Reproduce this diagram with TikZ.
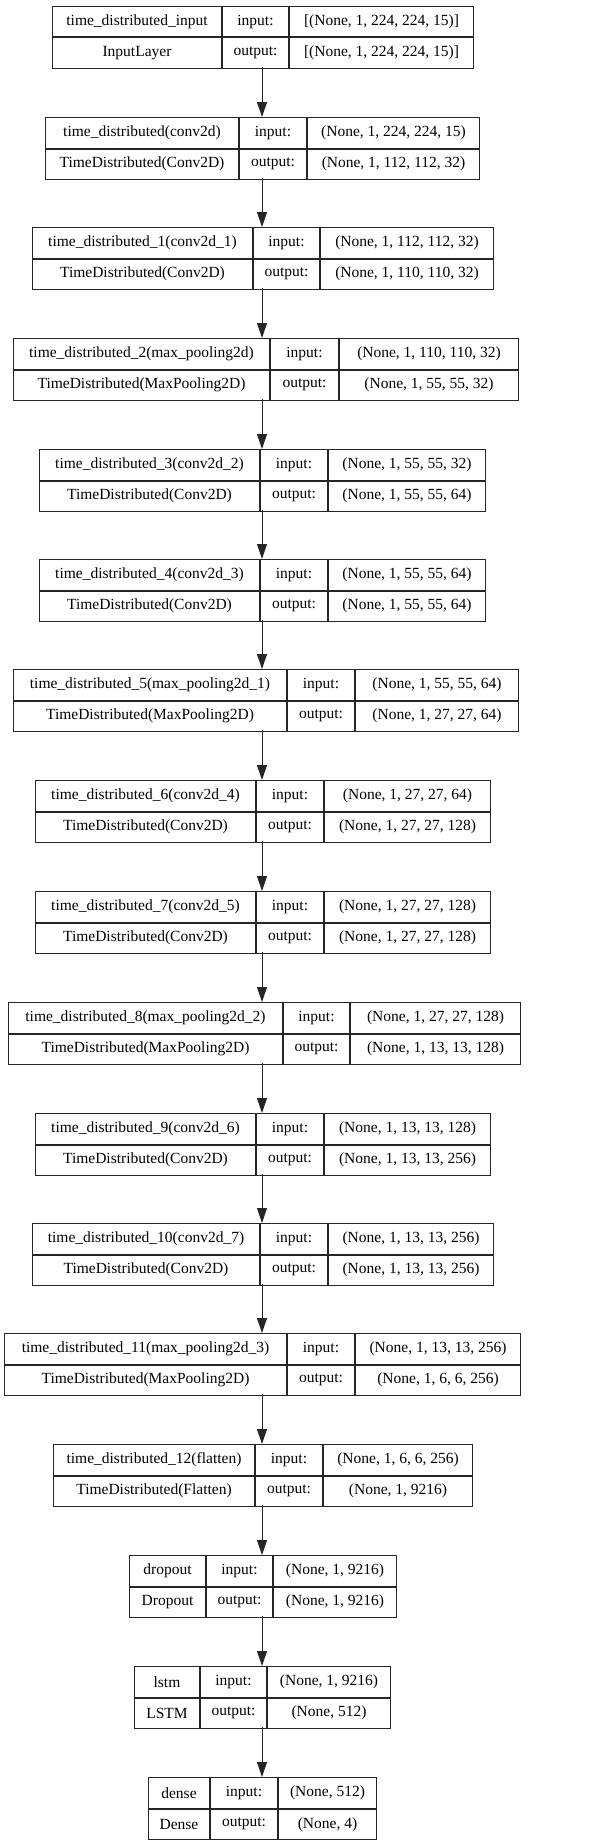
\documentclass[tikz,border=0pt]{standalone}
\usepackage{fontspec}
\setmainfont{Liberation Serif}
\usepackage{tikz}
\usetikzlibrary{arrows.meta,positioning}

\begin{document}
\begin{tikzpicture}[x=1pt,y=1pt,>={Triangle[length=15pt,width=10pt]},font=\fontsize{15.5}{18}\selectfont]
  \tikzstyle{cell}=[rectangle,draw=black!85,line width=1pt,inner sep=0pt,anchor=north west,minimum height=30.5pt]
  \tikzstyle{frame}=[rectangle,inner sep=0pt,anchor=north west,minimum height=61pt]
  \tikzstyle{flow}=[->,draw=black!85,line width=1pt]

  \useasboundingbox (0,0) rectangle (589,-1844);
  \coordinate (axis) at (262,0);

  % Layers
  \foreach \i/\top/\xa/\xb/\xc/\xd/\nm/\cl/\ia/\oa in {
    0/6/52/221/287/471/{time\_distributed\_input}/{InputLayer}/{[(None, 1, 224, 224, 15)]}/{[(None, 1, 224, 224, 15)]},
    1/117/45/238/305/477/{time\_distributed(conv2d)}/{TimeDistributed(Conv2D)}/{(None, 1, 224, 224, 15)}/{(None, 1, 112, 112, 32)},
    2/227/32/252/318/491/{time\_distributed\_1(conv2d\_1)}/{TimeDistributed(Conv2D)}/{(None, 1, 112, 112, 32)}/{(None, 1, 110, 110, 32)},
    3/338/13/269/337/516/{time\_distributed\_2(max\_pooling2d)}/{TimeDistributed(MaxPooling2D)}/{(None, 1, 110, 110, 32)}/{(None, 1, 55, 55, 32)},
    4/449/39/259/326/483/{time\_distributed\_3(conv2d\_2)}/{TimeDistributed(Conv2D)}/{(None, 1, 55, 55, 32)}/{(None, 1, 55, 55, 64)},
    5/559/39/259/326/483/{time\_distributed\_4(conv2d\_3)}/{TimeDistributed(Conv2D)}/{(None, 1, 55, 55, 64)}/{(None, 1, 55, 55, 64)},
    6/669/13/286/353/516/{time\_distributed\_5(max\_pooling2d\_1)}/{TimeDistributed(MaxPooling2D)}/{(None, 1, 55, 55, 64)}/{(None, 1, 27, 27, 64)},
    7/780/35/255/322/488/{time\_distributed\_6(conv2d\_4)}/{TimeDistributed(Conv2D)}/{(None, 1, 27, 27, 64)}/{(None, 1, 27, 27, 128)},
    8/891/35/255/322/488/{time\_distributed\_7(conv2d\_5)}/{TimeDistributed(Conv2D)}/{(None, 1, 27, 27, 128)}/{(None, 1, 27, 27, 128)},
    9/1002/8/282/348/518/{time\_distributed\_8(max\_pooling2d\_2)}/{TimeDistributed(MaxPooling2D)}/{(None, 1, 27, 27, 128)}/{(None, 1, 13, 13, 128)},
    10/1113/35/255/322/488/{time\_distributed\_9(conv2d\_6)}/{TimeDistributed(Conv2D)}/{(None, 1, 13, 13, 128)}/{(None, 1, 13, 13, 256)},
    11/1223/32/259/326/491/{time\_distributed\_10(conv2d\_7)}/{TimeDistributed(Conv2D)}/{(None, 1, 13, 13, 256)}/{(None, 1, 13, 13, 256)},
    12/1333/4/286/353/518/{time\_distributed\_11(max\_pooling2d\_3)}/{TimeDistributed(MaxPooling2D)}/{(None, 1, 13, 13, 256)}/{(None, 1, 6, 6, 256)},
    13/1444/53/254/321/470/{time\_distributed\_12(flatten)}/{TimeDistributed(Flatten)}/{(None, 1, 6, 6, 256)}/{(None, 1, 9216)},
    14/1555/129/205/271/394/{dropout}/{Dropout}/{(None, 1, 9216)}/{(None, 1, 9216)},
    15/1666/134/199/265/388/{lstm}/{LSTM}/{(None, 1, 9216)}/{(None, 512)},
    16/1777/148/209/276/374/{dense}/{Dense}/{(None, 512)}/{(None, 4)}}
  {
    \pgfmathsetmacro\wa{\xb-\xa}
    \pgfmathsetmacro\wb{\xc-\xb}
    \pgfmathsetmacro\wc{\xd-\xc}
    \pgfmathsetmacro\wall{\xd-\xa}
    \node [frame, minimum width=\wall pt] (L\i) at (\xa,-\top) {};
    \node [cell, minimum width=\wa pt] (L\i-name) at (\xa,-\top) {\nm};
    \node [cell, minimum width=\wb pt] (L\i-inlabel) at (L\i-name.north east) {input:};
    \node [cell, minimum width=\wc pt] (L\i-in) at (L\i-inlabel.north east) {\ia};
    \node [cell, minimum width=\wa pt] (L\i-class) at (L\i-name.south west) {\cl};
    \node [cell, minimum width=\wb pt] (L\i-outlabel) at (L\i-class.north east) {output:};
    \node [cell, minimum width=\wc pt] (L\i-out) at (L\i-outlabel.north east) {\oa};
  }

  % Arrows
  \foreach \i [evaluate=\i as \j using int(\i+1)] in {0,...,15}
    \draw [flow] (L\i.south -| axis) -- (L\j.north -| axis);
\end{tikzpicture}
\end{document}
